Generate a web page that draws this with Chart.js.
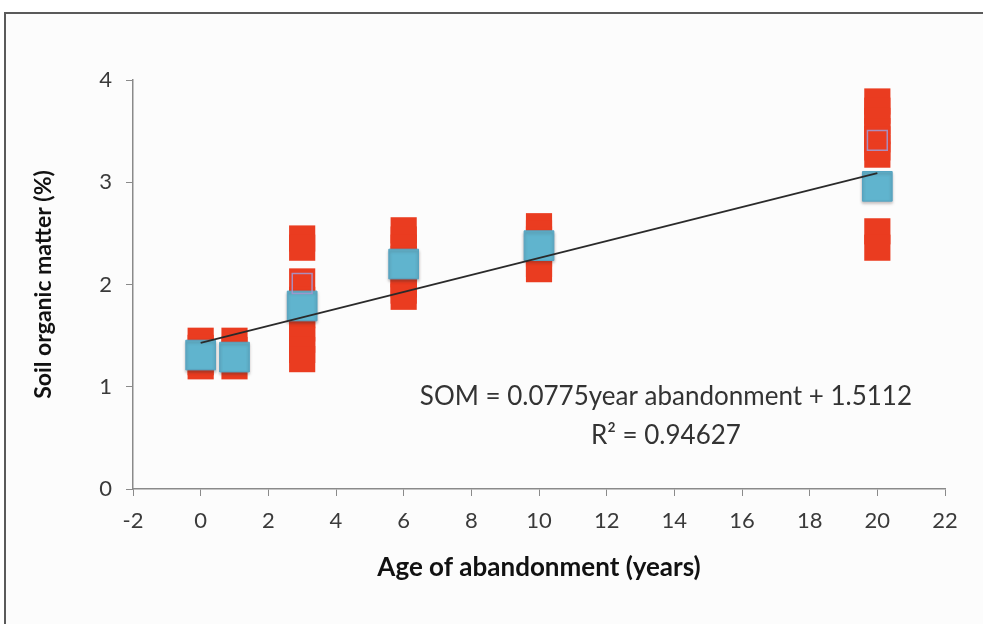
<!DOCTYPE html>
<html>
<head>
<meta charset="utf-8">
<script src="https://cdn.jsdelivr.net/npm/chart.js@4.4.0/dist/chart.umd.min.js"></script>
<style>
    html, body { margin: 0; padding: 0; background: #ffffff; }
    #frame {
        position: absolute; left: 4px; top: 12px; width: 990px; height: 620px;
        border-left: 2px solid #5a5a5a; border-top: 2px solid #5a5a5a;
        background: #fcfcfc;
    }
    #wrap { position: absolute; left: 0; top: 0; width: 983px; height: 624px; }
</style>
</head>
<body>
<div id="frame"></div>
<div id="wrap"><canvas id="myChart"></canvas></div>
<script>
// ages where soil was sampled (years since abandonment)
var ages = [0, 1, 3, 6, 10, 20];

// individual samples, one list per age (red squares)
var somSamples = [
    [1.45, 1.38, 1.30, 1.24, 1.20],
    [1.45, 1.36, 1.28, 1.20],
    [2.45, 2.36, 2.03, 1.85, 1.70, 1.57, 1.46, 1.36, 1.27],
    [2.53, 2.44, 2.36, 2.25, 2.10, 2.00, 1.94, 1.88],
    [2.57, 2.50, 2.44, 2.30, 2.20, 2.15],
    [3.79, 3.70, 3.60, 3.50, 3.42, 3.34, 3.27, 2.52, 2.36]
];

// mean per age (blue squares)
var somMeans = [1.31, 1.29, 1.79, 2.20, 2.38, 2.96];

// outlined squares
var outlineX = [3, 20];
var outlineY = [2.01, 3.41];

// trend line ends
var trendX = [0, 20];
var trendY = [1.43, 3.09];

var xTicks = [-2, 0, 2, 4, 6, 8, 10, 12, 14, 16, 18, 20, 22];
var yTicks = [0, 1, 2, 3, 4];

var eqLines = ['SOM = 0.0775year abandonment + 1.5112', 'R² = 0.94627'];

var FONT = 'Lato, "Open Sans", sans-serif';

document.addEventListener("DOMContentLoaded", () => {
    var samplePts = [];
    ages.forEach((a, i) => {
        somSamples[i].forEach(v => samplePts.push({ x: a, y: v }));
    });
    var meanPts = ages.map((a, i) => ({ x: a, y: somMeans[i] }));
    var outlinePts = outlineX.map((a, i) => ({ x: a, y: outlineY[i] }));
    var trendPts = trendX.map((a, i) => ({ x: a, y: trendY[i] }));

    // soft shadow under the blue squares
    var shadowPlugin = {
        id: 'shadow',
        beforeDatasetDraw(chart, args) {
            if (args.index == 2) {
                chart.ctx.save();
                chart.ctx.shadowColor = 'rgba(60,40,40,0.35)';
                chart.ctx.shadowBlur = 3;
                chart.ctx.shadowOffsetY = 2;
            }
        },
        afterDatasetDraw(chart, args) {
            if (args.index == 2) {
                chart.ctx.restore();
            }
        }
    };

    // regression text
    var eqPlugin = {
        id: 'eq',
        afterDatasetsDraw(chart) {
            var ctx = chart.ctx;
            var xs = chart.scales.x, ys = chart.scales.y;
            ctx.save();
            ctx.fillStyle = '#333333';
            ctx.font = '26px ' + FONT;
            ctx.textAlign = 'center';
            ctx.textBaseline = 'middle';
            ctx.fillText(eqLines[0], xs.getPixelForValue(13.75), ys.getPixelForValue(0.9));
            ctx.fillText(eqLines[1], xs.getPixelForValue(13.75), ys.getPixelForValue(0.52));
            ctx.restore();
        }
    };

    var ctx = document.getElementById('myChart').getContext('2d');
    var chart = new Chart(ctx, {
        type: 'scatter',
        data: {
            datasets: [{
                label: 'Trend',
                data: trendPts,
                showLine: true,
                borderColor: '#2a2a2a',
                borderWidth: 1.8,
                pointRadius: 0,
                fill: false
            },
            {
                label: 'Outlined',
                data: outlinePts,
                pointStyle: 'rect',
                pointRadius: 14,
                pointBackgroundColor: 'rgba(0,0,0,0)',
                pointBorderColor: 'rgba(165,150,205,0.9)',
                pointBorderWidth: 1.5
            },
            {
                label: 'Mean',
                data: meanPts,
                pointStyle: 'rect',
                pointRadius: 21,
                pointBackgroundColor: 'rgb(96,180,206)',
                pointBorderColor: 'rgb(86,164,194)',
                pointBorderWidth: 1
            },
            {
                label: 'Samples',
                data: samplePts,
                pointStyle: 'rect',
                pointRadius: 18.5,
                pointBackgroundColor: 'rgb(234,60,32)',
                pointBorderWidth: 0
            }]
        },
        options: {
            responsive: true,
            maintainAspectRatio: false,
            animation: false,
            layout: { padding: { left: 20, right: 38, top: 80, bottom: 35 } },
            plugins: {
                legend: { display: false },
                tooltip: { enabled: false }
            },
            scales: {
                x: {
                    type: 'linear',
                    min: -2,
                    max: 22,
                    afterBuildTicks(scale) {
                        scale.ticks = xTicks.map(v => ({ value: v }));
                    },
                    afterFit(scale) { scale.height = 100; },
                    grid: { drawOnChartArea: false, drawTicks: true, tickLength: 7, color: '#8a8a8a' },
                    border: { color: '#8a8a8a', width: 1.5 },
                    ticks: { color: '#3a3a3a', font: { family: FONT, size: 22 }, padding: 12 },
                    title: {
                        display: true,
                        text: 'Age of abandonment (years)',
                        color: '#111111',
                        font: { family: FONT, size: 26, weight: 'bold' },
                        padding: { top: 0, bottom: 6 }
                    }
                },
                y: {
                    type: 'linear',
                    min: 0,
                    max: 4,
                    afterBuildTicks(scale) {
                        scale.ticks = yTicks.map(v => ({ value: v }));
                    },
                    afterFit(scale) { scale.width = 113; },
                    grid: { drawOnChartArea: false, drawTicks: true, tickLength: 7, color: '#8a8a8a' },
                    border: { color: '#8a8a8a', width: 1.5 },
                    ticks: { color: '#3a3a3a', font: { family: FONT, size: 22 }, padding: 14 },
                    title: {
                        display: true,
                        text: 'Soil organic matter (%)',
                        color: '#111111',
                        font: { family: FONT, size: 23, weight: 'bold' },
                        padding: { top: 10, bottom: 0 }
                    }
                }
            }
        },
        plugins: [shadowPlugin, eqPlugin]
    });
});
</script>
</body>
</html>
